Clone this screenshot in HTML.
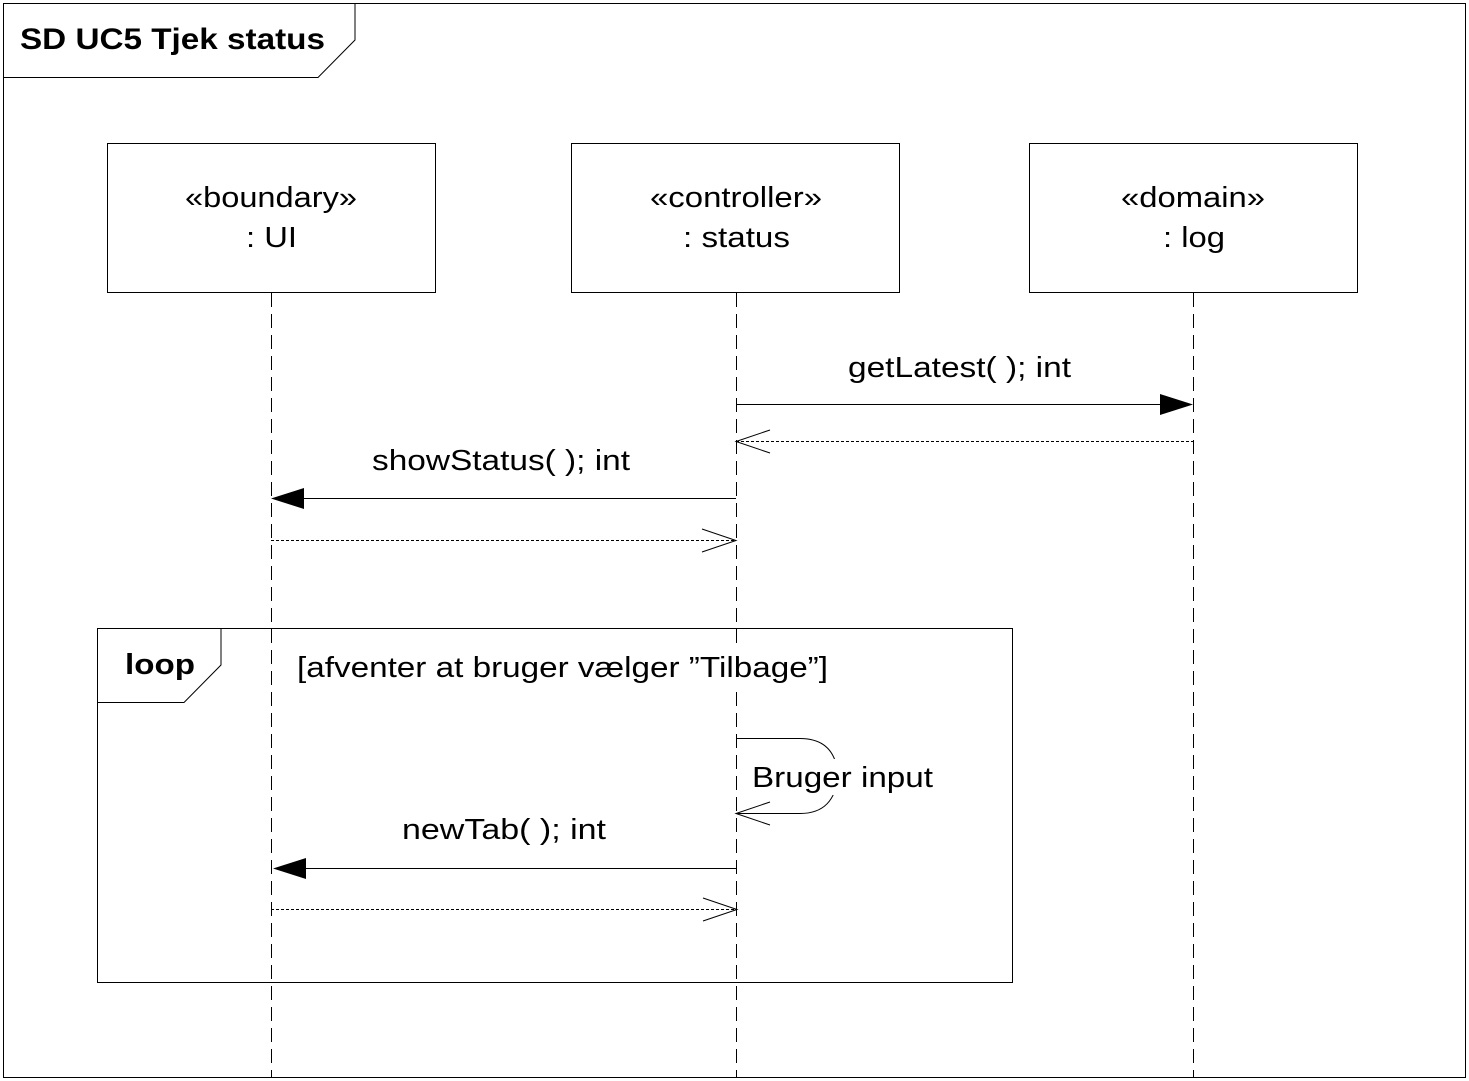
<!DOCTYPE html>
<html><head><style>body{margin:0;background:#fff}svg{display:block}</style></head><body>
<svg width="1469" height="1081" xmlns="http://www.w3.org/2000/svg" font-family="Liberation Sans, Arial, sans-serif">
<rect x="3.5" y="3.5" width="1462" height="1074" fill="#fff" stroke="#000"/>
<path d="M3.5 77.5 H318 L355 40 V3.5" fill="none" stroke="#000"/>
<text x="20" y="49" font-size="30" font-weight="bold" textLength="305" lengthAdjust="spacingAndGlyphs">SD UC5 Tjek status</text>
<g stroke="#000" fill="#fff">
<rect x="107.5" y="143.5" width="328" height="149"/>
<rect x="571.5" y="143.5" width="328" height="149"/>
<rect x="1029.5" y="143.5" width="328" height="149"/>
</g>
<g font-size="29">
<text x="185" y="207" textLength="172" lengthAdjust="spacingAndGlyphs">«boundary»</text><text x="246" y="247" textLength="51" lengthAdjust="spacingAndGlyphs">: UI</text>
<text x="650" y="207" textLength="172" lengthAdjust="spacingAndGlyphs">«controller»</text><text x="683" y="247" textLength="107" lengthAdjust="spacingAndGlyphs">: status</text>
<text x="1121" y="207" textLength="144" lengthAdjust="spacingAndGlyphs">«domain»</text><text x="1163" y="247" textLength="62" lengthAdjust="spacingAndGlyphs">: log</text>
</g>
<g stroke="#000" stroke-dasharray="14,7" fill="none">
<line x1="271.5" y1="293" x2="271.5" y2="1077"/>
<line x1="736.5" y1="293" x2="736.5" y2="1077"/>
<line x1="1193.5" y1="293" x2="1193.5" y2="1077"/>
</g>
<g font-size="29">
<text x="848" y="377" textLength="223" lengthAdjust="spacingAndGlyphs">getLatest( ); int</text>
<text x="372" y="470" textLength="258" lengthAdjust="spacingAndGlyphs">showStatus( ); int</text>
<text x="402" y="839" textLength="204" lengthAdjust="spacingAndGlyphs">newTab( ); int</text>
</g>
<line x1="736" y1="404.5" x2="1160" y2="404.5" stroke="#000"/>
<polygon points="1160,394 1193,404.5 1160,415" fill="#000"/>
<line x1="736" y1="441.5" x2="1193" y2="441.5" stroke="#000" stroke-dasharray="3,2"/>
<path d="M770 430 L736 441.5 L770 453" fill="none" stroke="#000"/>
<line x1="304" y1="498.5" x2="736" y2="498.5" stroke="#000"/>
<polygon points="304,488 271,498.5 304,509" fill="#000"/>
<line x1="271" y1="540.5" x2="736" y2="540.5" stroke="#000" stroke-dasharray="3,2"/>
<path d="M702 529 L736 540.5 L702 552" fill="none" stroke="#000"/>
<rect x="97.5" y="628.5" width="915" height="354" fill="none" stroke="#000"/>
<path d="M97.5 702.5 H184 L221 665 V628.5" fill="none" stroke="#000"/>
<text x="125" y="674" font-size="29" font-weight="bold" textLength="70" lengthAdjust="spacingAndGlyphs">loop</text>
<rect x="294" y="648" width="538" height="38" fill="#fff"/>
<text x="297" y="677" font-size="29" textLength="531" lengthAdjust="spacingAndGlyphs">[afventer at bruger vælger ”Tilbage”]</text>
<path d="M736 738.5 H800 Q835 738.5 838 775 Q835 813.5 800 813.5 H736" fill="none" stroke="#000"/>
<path d="M770 802 L736 813.5 L770 825" fill="none" stroke="#000"/>
<rect x="749" y="759" width="188" height="36" fill="#fff"/>
<text x="752" y="787" font-size="29" textLength="181" lengthAdjust="spacingAndGlyphs">Bruger input</text>
<line x1="306" y1="868.5" x2="737" y2="868.5" stroke="#000"/>
<polygon points="306,858 273,868.5 306,879" fill="#000"/>
<line x1="271" y1="909.5" x2="737" y2="909.5" stroke="#000" stroke-dasharray="3,2"/>
<path d="M703 898 L737 909.5 L703 921" fill="none" stroke="#000"/>
</svg>
</body></html>
